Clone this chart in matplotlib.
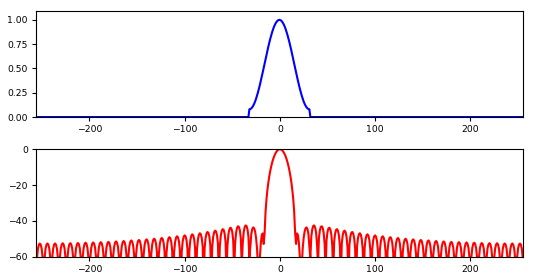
import numpy as np
import matplotlib
matplotlib.use("Agg")
import matplotlib.pyplot as plt

# Sample index axis (512 samples, centred on 0)
n_start, n_stop = -256, 256
win_start = -32  # first non-zero sample of the window

# Window samples (first half, rising edge; symmetric)
window_half = [0.0800, 0.0823, 0.0891, 0.1004, 0.1161, 0.1360, 0.1599, 0.1876,
               0.2188, 0.2532, 0.2905, 0.3302, 0.3719, 0.4154, 0.4601, 0.5056,
               0.5515, 0.5972, 0.6424, 0.6865, 0.7292, 0.7700, 0.8085, 0.8444,
               0.8772, 0.9067, 0.9325, 0.9545, 0.9723, 0.9858, 0.9949, 0.9994]

top_yticks = [0.00, 0.25, 0.50, 0.75, 1.00]
bot_yticks = [-60, -40, -20, 0]
xticks = [-200, -100, 0, 100, 200]

# Build the full 512-sample signal from the window samples
x = np.arange(n_start, n_stop)
win = np.array(window_half + window_half[::-1])
signal = np.zeros(len(x))
i0 = int(np.where(x == win_start)[0][0])
signal[i0:i0 + len(win)] = win

# Magnitude spectrum in dB (fft-shifted so bin 0 is at the centre)
spec = np.fft.fftshift(np.abs(np.fft.fft(signal)))
spec_db = 20 * np.log10(spec / spec.max())

plt.rcParams.update({
    "font.size": 6.7,
    "xtick.major.size": 2.9,
    "ytick.major.size": 2.9,
    "xtick.major.pad": 3.0,
    "ytick.major.pad": 3.0,
    "axes.linewidth": 0.8,
})

fig = plt.figure(figsize=(5.34, 2.8), dpi=100)
ax1 = fig.add_axes([0.0674, 0.582, 0.9116, 0.380])
ax2 = fig.add_axes([0.0674, 0.083, 0.9116, 0.384])

ax1.plot(x, signal, color="blue", lw=1.5)
ax1.set_xlim(x[0], x[-1])
ax1.set_ylim(0, 1.095)
ax1.set_yticks(top_yticks)
ax1.set_xticks(xticks)

ax2.plot(x, spec_db, color="red", lw=1.5)
ax2.set_xlim(x[0], x[-1])
ax2.set_ylim(-60, 0)
ax2.set_yticks(bot_yticks)
ax2.set_xticks(xticks)

fig.savefig("out.png", dpi=100)
